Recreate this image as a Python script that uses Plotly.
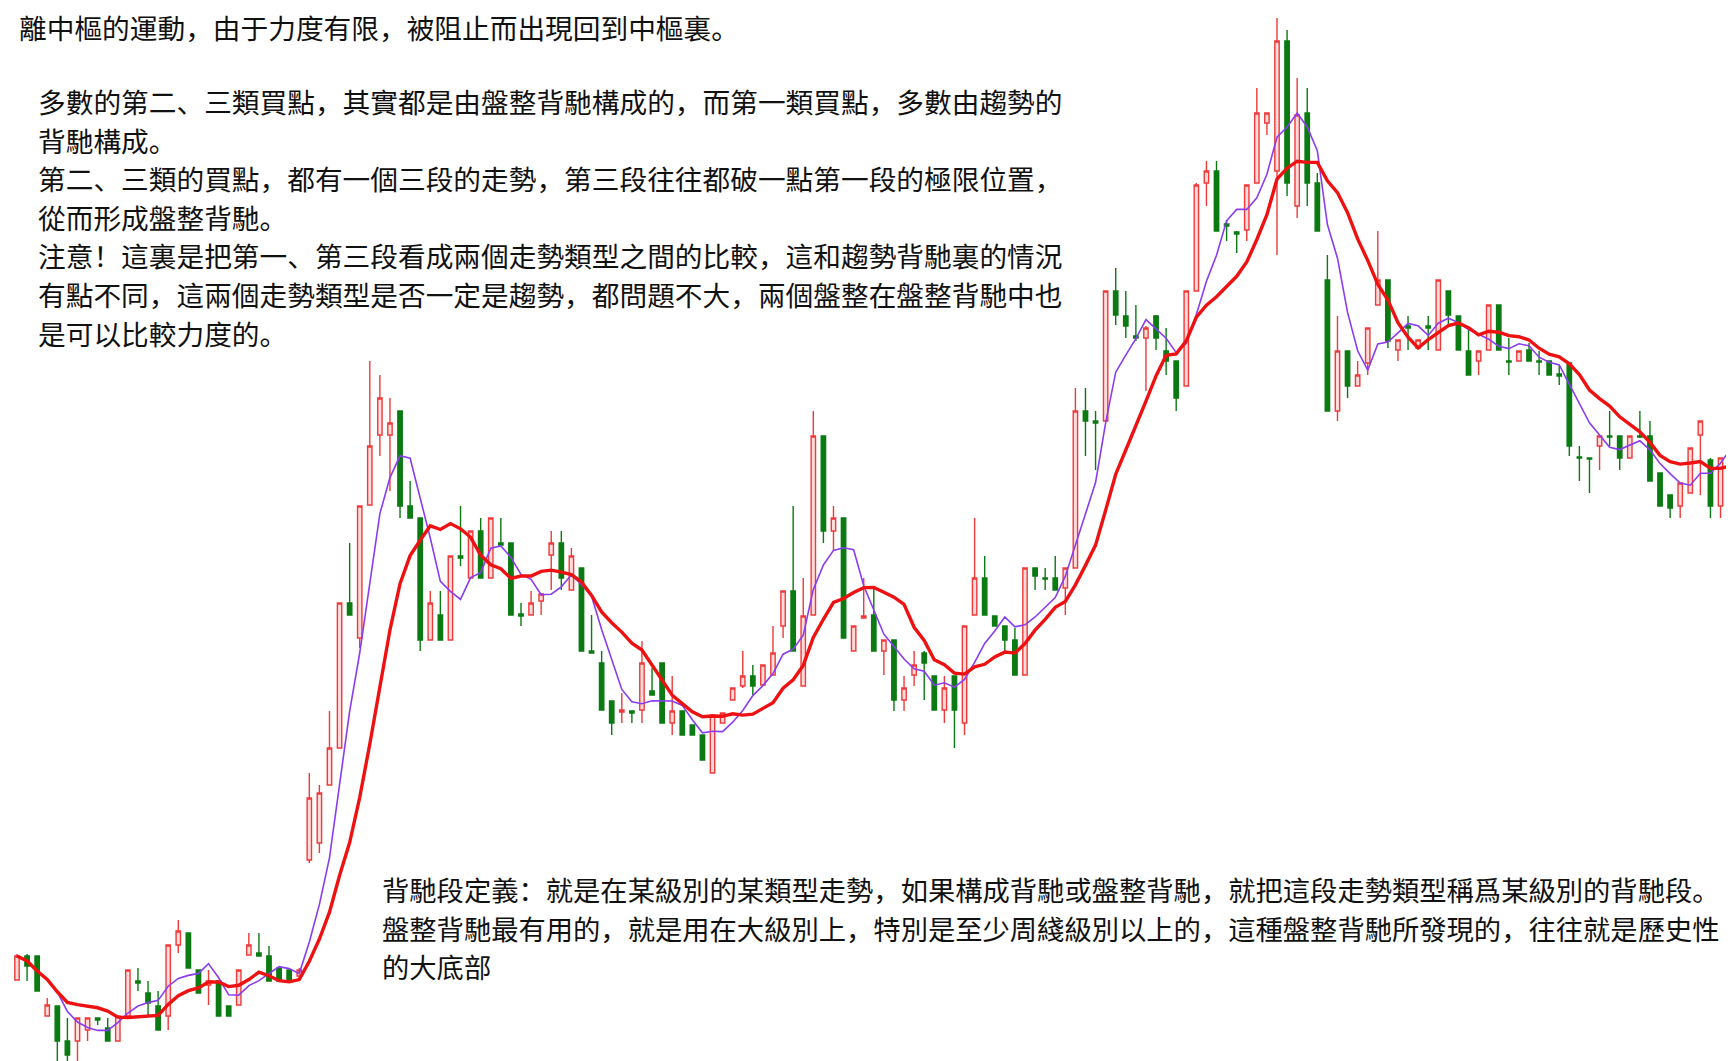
import plotly.graph_objects as go
import pandas as pd

# ---------------- data ----------------
idx = list(range(172))

open_ = [89,113,113,53,63,28,28,39,51,41,
         28,53,88,76,63,53,124,136,99,84,
         88,63,64,114,116,113,101,99,93,209,
         226,284,321,466,431,564,634,634,658,563,
         551,429,454,429,513,491,538,491,526,526,
         455,454,468,514,526,479,501,418,406,368,
         357,358,359,378,406,346,358,344,334,296,
         346,369,383,393,384,394,443,478,383,454,
         633,538,551,418,451,454,418,429,369,394,
         416,393,359,393,346,454,491,453,443,429,
         394,501,491,491,481,501,658,648,648,778,
         753,733,731,753,718,708,683,778,886,898,
         845,837,839,886,946,898,1028,863,956,886,
         789,658,718,683,706,764,789,719,743,721,
         743,719,778,753,718,708,719,764,708,708,
         719,708,708,695,706,612,611,623,633,633,
         611,633,633,596,574,563,576,634,609,563,
         621,706]

high = [115,115,113,71,63,51,51,51,51,51,
        53,99,101,88,78,124,149,136,99,99,
        88,63,99,136,136,123,101,99,101,296,
        284,358,466,526,563,708,694,671,658,588,
        551,478,478,513,563,538,551,551,551,526,
        466,478,476,538,538,521,501,454,418,368,
        376,358,428,401,406,393,358,344,334,354,
        356,381,418,404,404,443,478,563,491,658,
        633,563,551,443,491,481,429,429,393,418,
        418,393,393,393,443,551,513,453,443,441,
        501,501,501,513,501,681,681,658,778,801,
        778,764,743,754,741,708,778,886,908,908,
        849,838,884,981,956,1051,1039,991,981,896,
        814,753,718,708,741,838,789,729,753,729,
        753,789,778,753,741,718,764,764,731,718,
        726,718,708,704,706,623,611,633,658,633,
        633,658,648,596,574,586,621,648,611,611,
        671,756]

low = [89,88,78,53,1,1,1,28,44,28,
       28,53,78,54,39,39,116,101,76,64,
       53,53,64,114,113,88,88,89,91,206,
       216,284,321,454,421,564,613,578,551,551,
       418,429,429,429,503,491,491,491,524,454,
       443,454,454,479,479,479,418,416,359,334,
       346,346,346,374,346,334,334,334,309,296,
       346,369,381,373,384,394,431,418,383,454,
       526,518,431,418,451,418,394,358,358,383,
       369,359,346,321,334,454,454,443,418,394,
       394,479,479,479,454,501,613,599,648,744,
       731,728,678,719,694,658,683,778,863,838,
       828,816,828,886,934,814,873,851,863,838,
       658,648,671,683,694,764,721,708,719,721,
       719,719,744,719,694,694,719,719,694,708,
       708,694,694,684,613,588,576,599,623,599,
       611,631,588,563,551,551,576,574,551,551,
       621,681]

close = [113,103,78,64,28,14,51,51,49,28,
         53,99,86,66,39,124,138,101,76,88,
         53,53,99,124,113,88,88,89,99,271,
         276,321,466,454,563,623,671,646,563,551,
         429,466,429,513,511,538,491,551,524,454,
         453,466,475,526,491,513,418,416,359,346,
         359,356,406,374,346,358,334,334,309,354,
         356,381,393,383,404,416,478,418,453,633,
         538,551,431,443,453,418,429,369,381,404,
         406,359,381,359,443,491,454,443,429,394,
         501,493,490,479,501,658,648,646,778,754,
         743,731,741,731,708,671,778,884,898,838,
         843,835,884,956,956,1028,886,954,886,838,
         658,718,683,694,741,789,728,729,741,729,
         741,789,754,719,694,718,764,719,707,718,
         708,707,694,693,623,611,610,633,632,611,
         633,632,588,563,561,586,621,648,563,611,
         658,751]

top_lines = ["離中樞的運動，由于力度有限，被阻止而出現回到中樞裏。"]

note_lines = [
    "多數的第二、三類買點，其實都是由盤整背馳構成的，而第一類買點，多數由趨勢的",
    "背馳構成。",
    "第二、三類的買點，都有一個三段的走勢，第三段往往都破一點第一段的極限位置，",
    "從而形成盤整背馳。",
    "注意！這裏是把第一、第三段看成兩個走勢類型之間的比較，這和趨勢背馳裏的情況",
    "有點不同，這兩個走勢類型是否一定是趨勢，都問題不大，兩個盤整在盤整背馳中也",
    "是可以比較力度的。",
]

bottom_lines = [
    "背馳段定義：就是在某級別的某類型走勢，如果構成背馳或盤整背馳，就把這段走勢類型稱爲某級別的背馳段。",
    "盤整背馳最有用的，就是用在大級別上，特別是至少周綫級別以上的，這種盤整背馳所發現的，往往就是歷史性",
    "的大底部",
]

# ---------------- figure ----------------
W, H = 1734, 1061
s_close = pd.Series(close, dtype=float)
ma5 = s_close.rolling(5, min_periods=1).mean()
ma10 = s_close.rolling(10, min_periods=1).mean()

fig = go.Figure()
fig.add_trace(go.Candlestick(
    x=idx, open=open_, high=high, low=low, close=close,
    increasing=dict(line=dict(color="#f03a3a", width=1.4),
                    fillcolor="rgba(255,175,175,0.45)"),
    decreasing=dict(line=dict(color="#0b7a12", width=1.4),
                    fillcolor="#0b7a12"),
    whiskerwidth=0, showlegend=False, hoverinfo="skip",
))
fig.add_trace(go.Scatter(x=idx, y=ma5, mode="lines",
                         line=dict(color="#8a3cf0", width=1.6),
                         showlegend=False, hoverinfo="skip"))
fig.add_trace(go.Scatter(x=idx, y=ma10, mode="lines",
                         line=dict(color="#ee1111", width=3.4),
                         showlegend=False, hoverinfo="skip"))

FONT = "Noto Sans CJK SC, Noto Sans CJK TC, sans-serif"
TXT = "#111111"
ann = []

def add_lines(lines, x_px, y0_px, dy_px, size):
    for k, t in enumerate(lines):
        ann.append(dict(
            text=t, x=x_px / W, y=1 - (y0_px + k * dy_px) / H,
            xref="paper", yref="paper", xanchor="left", yanchor="middle",
            showarrow=False, font=dict(family=FONT, size=size, color=TXT),
        ))

add_lines(top_lines, 9, 19, 38.5, 27.7)
add_lines(note_lines, 28, 93, 38.6, 27.7)
add_lines(bottom_lines, 372, 881, 38.7, 27.3)

spacing = 10.08
xmin = -9 / spacing
fig.update_layout(
    width=W, height=H,
    margin=dict(l=0, r=0, t=0, b=0),
    paper_bgcolor="white", plot_bgcolor="white",
    boxgap=0.38,
    xaxis=dict(range=[xmin, xmin + W / spacing], visible=False,
               rangeslider=dict(visible=False), fixedrange=True),
    yaxis=dict(range=[0, H], visible=False, fixedrange=True),
    annotations=ann,
)

fig.write_html("out.html")
